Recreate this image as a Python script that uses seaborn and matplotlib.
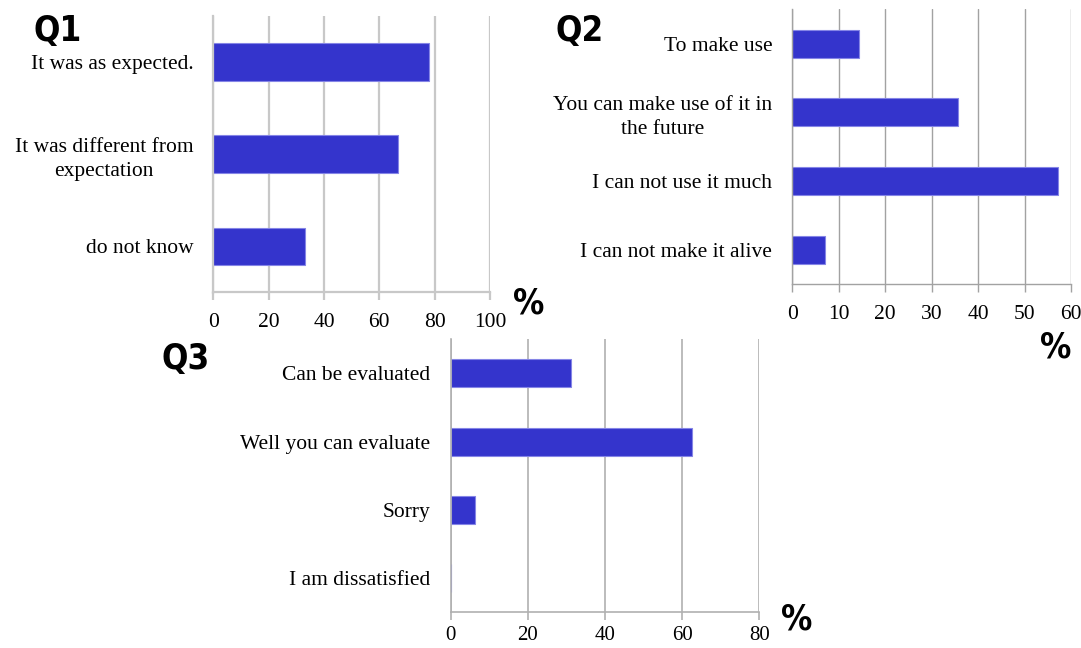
import matplotlib
matplotlib.use("Agg")
import matplotlib.pyplot as plt
import seaborn as sns
import numpy as np
import pandas as pd

# Survey answers (percent of respondents)
q1_labels = ["It was as expected.", "It was different from\nexpectation", "do not know"]
q1_values = [78.0, 66.7, 33.3]
q1_ticks = [0, 20, 40, 60, 80, 100]

q2_labels = ["To make use", "You can make use of it in\nthe future",
             "I can not use it much", "I can not make it alive"]
q2_values = [14.3, 35.7, 57.1, 7.1]
q2_ticks = [0, 10, 20, 30, 40, 50, 60]

q3_labels = ["Can be evaluated", "Well you can evaluate", "Sorry", "I am dissatisfied"]
q3_values = [31.25, 62.5, 6.25, 0.0]
q3_ticks = [0, 20, 40, 60, 80]

BAR = "#3434cc"
EDGE = "#8585e6"
W, H = 1081, 648

sns.set_style("white")
plt.rcParams["font.family"] = ["Liberation Serif", "DejaVu Serif"]
plt.rcParams["text.color"] = "black"
plt.rcParams["xtick.color"] = "black"
plt.rcParams["ytick.color"] = "black"
HEAD_FONT = ["DejaVu Sans"]

fig = plt.figure(figsize=(W / 100, H / 100), dpi=100)


def px_rect(left, top, right, bottom):
    return [left / W, 1 - bottom / H, (right - left) / W, (bottom - top) / H]


def panel(rect, labels, values, ticks, grid_color, grid_lw, xpad, xsize):
    ax = fig.add_axes(rect)
    df = pd.DataFrame({"answer": labels, "share": values})
    sns.barplot(data=df, x="share", y="answer", orient="h", color=BAR,
                saturation=1, width=0.41, edgecolor=EDGE, linewidth=0.8, ax=ax)
    n = len(labels)
    ax.set_xlim(ticks[0], ticks[-1])
    ax.set_ylim(n - 0.5, -0.5)
    ax.set_xlabel("")
    ax.set_ylabel("")

    ax.set_xticks(ticks)
    ax.set_xticklabels([str(t) for t in ticks], fontsize=xsize)
    ax.set_yticks(range(n))
    ax.set_yticklabels(labels, fontsize=15.5, multialignment="center",
                       linespacing=1.4)
    ax.set_yticks(np.arange(-0.5, n), minor=True)

    ax.tick_params(axis="y", which="major", length=0, pad=14.5)
    ax.tick_params(axis="y", which="minor", length=6, width=1,
                   color=grid_color)
    ax.tick_params(axis="x", which="major", length=6, width=grid_lw,
                   color=grid_color, pad=xpad, bottom=True)

    ax.grid(axis="x", color=grid_color, linewidth=grid_lw)
    ax.grid(axis="y", visible=False)
    ax.set_axisbelow(True)
    for side in ("top", "right"):
        ax.spines[side].set_visible(False)
    for side in ("left", "bottom"):
        ax.spines[side].set_color(grid_color)
        ax.spines[side].set_linewidth(grid_lw)
    return ax


panel(px_rect(213.3, 16, 490, 292.5), q1_labels, q1_values, q1_ticks,
      "#c8c8c8", 1.6, 8.5, 15.5)
panel(px_rect(792.3, 9.3, 1071, 284), q2_labels, q2_values, q2_ticks,
      "#a2a2a2", 1.0, 9.0, 15.5)
panel(px_rect(450.7, 339.3, 759.3, 612), q3_labels, q3_values, q3_ticks,
      "#b0b0b0", 1.2, 4.0, 15.0)


def head(x, y, s):
    fig.text(x / W, 1 - y / H, s, fontsize=25, fontweight="bold",
             fontstretch="condensed", family=HEAD_FONT,
             ha="center", va="center")


def pct(x, y):
    fig.text(x / W, 1 - y / H, "%", fontsize=25, fontweight="bold",
             fontstretch="condensed", family=HEAD_FONT,
             ha="center", va="center")


head(58, 31, "Q1")
head(580, 31, "Q2")
head(186, 359, "Q3")
pct(529, 303)
pct(1056, 347)
pct(797, 620)

fig.savefig("out.png", dpi=100)
